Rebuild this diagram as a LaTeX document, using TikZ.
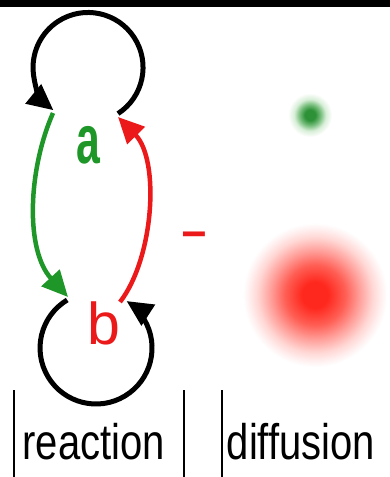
\documentclass[tikz,border=0pt]{standalone}
\usepackage{fontspec}
\setmainfont{Liberation Sans}
\usetikzlibrary{arrows.meta}
\definecolor{agreen}{RGB}{30,150,40}
\definecolor{ared}{RGB}{235,25,25}
\definecolor{gcore}{RGB}{45,145,55}
\definecolor{gmid}{RGB}{120,190,125}
\definecolor{gpale}{RGB}{215,238,215}
\definecolor{rcore}{RGB}{255,40,30}
\definecolor{rmid}{RGB}{255,95,85}
\definecolor{rsoft}{RGB}{255,160,155}
\definecolor{rpale}{RGB}{255,215,212}
\definecolor{rfaint}{RGB}{255,240,240}
\pgfdeclareradialshading{gblob}{\pgfpoint{0bp}{0bp}}{color(0bp)=(gcore); color(6bp)=(gcore); color(12bp)=(gmid); color(18bp)=(gpale); color(25bp)=(white); color(50bp)=(white)}
\pgfdeclareradialshading{rblob}{\pgfpoint{0bp}{0bp}}{color(0bp)=(rcore); color(4.5bp)=(rcore); color(10.5bp)=(rmid); color(15.5bp)=(rsoft); color(20bp)=(rpale); color(23bp)=(rfaint); color(25bp)=(white); color(50bp)=(white)}
\tikzset{
  loopline/.style={line width=5pt, black, -{Triangle[length=26pt,width=24pt]}},
  actline/.style={line width=4.5pt, agreen, -{Triangle[length=26pt,width=24pt]}},
  inhline/.style={line width=4.5pt, ared, -{Triangle[length=26pt,width=24pt]}},
  species/.style={inner sep=0pt},
  caption/.style={inner sep=0pt, anchor=base west, font=\fontsize{50}{50}\selectfont},
  bar/.style={line width=2pt, black}
}
\begin{document}
\begin{tikzpicture}[x=1pt,y=1pt]
\useasboundingbox (0,0) rectangle (390,477);
\fill[white] (0,0) rectangle (390,477);
\fill[black] (0,470) rectangle (390,477);
% species nodes
\node[species, text=agreen, font=\bfseries\fontsize{69}{69}\selectfont] (a) at (88.5,332) {\scalebox{0.62}[1]{a}};
\node[species, text=ared, font=\fontsize{59}{59}\selectfont] (b) at (104,153.5) {b};
% self loops
\draw[loopline] ([shift={(29.5,31.4)}]a.center) arc[start angle=-57, end angle=231, radius=55];
\draw[loopline] ([shift={(-36.8,23.5)}]b.center) arc[start angle=121, end angle=417, radius=56];
% a activates b
\draw[actline] ([shift={(-35.5,32)}]a.center) .. controls +(-25,-57) and +(-43,47) .. ([shift={(-36,26.5)}]b.center);
% b inhibits a
\draw[inhline] ([shift={(16,21.5)}]b.center) .. controls +(34,44) and +(42,-43) .. ([shift={(29.5,28)}]a.center);
\node[inner sep=0pt, anchor=base west, text=ared, font=\fontsize{80}{80}\selectfont] (minus) at (179.1,226.9) {\scalebox{1.12}[0.76]{-}};
% diffusion blobs
\shade[shading=gblob] (310,362) circle[radius=22];
\shade[shading=rblob] (315,182) circle[radius=72];
% captions
\draw[bar] (14,0) -- (14,87);
\draw[bar] (184,0) -- (184,87);
\draw[bar] (222,0) -- (222,87);
\node[caption] (reaction) at (22.4,17) {\scalebox{0.8}[1]{reaction}};
\node[caption] (diffusion) at (226.6,17) {\scalebox{0.8}[1]{diffusion}};
\end{tikzpicture}
\end{document}
